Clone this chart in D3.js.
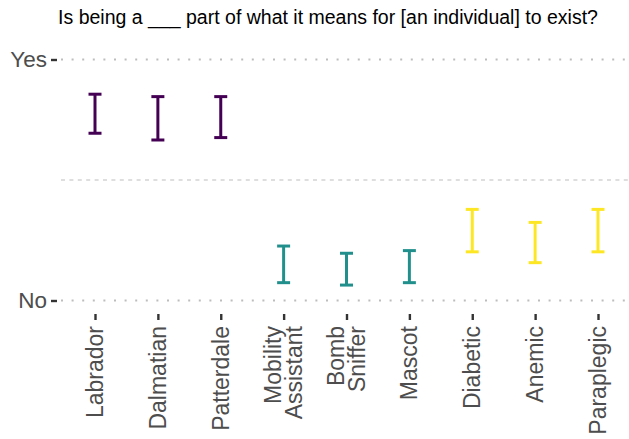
<!DOCTYPE html>
<html>
<head>
<meta charset="utf-8">
<script src="https://cdn.jsdelivr.net/npm/d3@7"></script>
<style>
  body { margin: 0; background: #fff; }
  svg { display: block; font-family: "Liberation Sans", Arial, sans-serif; }
</style>
</head>
<body>
<svg id="chart" width="629" height="439"></svg>
<script>
const categories = ["Labrador", "Dalmatian", "Patterdale", "Mobility\nAssistant", "Bomb\nSniffer", "Mascot", "Diabetic", "Anemic", "Paraplegic"];
const groups = ["breed", "breed", "breed", "role", "role", "role", "condition", "condition", "condition"];
const lowerValues = [0.694, 0.666, 0.676, 0.074, 0.064, 0.074, 0.202, 0.157, 0.202];
const upperValues = [0.856, 0.846, 0.846, 0.226, 0.196, 0.207, 0.378, 0.324, 0.378];
const yTickValues = [0, 1];
const yTickLabels = ["No", "Yes"];
const groupNames = ["breed", "role", "condition"];
const groupColors = ["#440154", "#21908C", "#FDE725"];
const titleText = "Is being a ___ part of what it means for [an individual] to exist?";

const svg = d3.select("#chart");
const W = 629, H = 439;
const panel = { left: 58, right: 629, top: 47, bottom: 313 };

const x = d3.scalePoint().domain(categories).range([95, 598]);
const y = d3.scaleLinear().domain([0, 1]).range([300.5, 59.5]);
const color = d3.scaleOrdinal().domain(groupNames).range(groupColors);

// title
svg.append("text")
  .attr("x", 328).attr("y", 24)
  .attr("text-anchor", "middle")
  .attr("font-size", 19.5)
  .attr("fill", "#000")
  .text(titleText);

// gridlines at Yes / No (dotted)
svg.append("g").selectAll("line").data(yTickValues).join("line")
  .attr("x1", panel.left + 3).attr("x2", panel.right)
  .attr("y1", d => y(d)).attr("y2", d => y(d))
  .attr("stroke", "#bdbdbd").attr("stroke-width", 2.2)
  .attr("stroke-dasharray", "2,8.6");

// midline dashed
svg.append("line")
  .attr("x1", panel.left + 3).attr("x2", panel.right)
  .attr("y1", y(0.5)).attr("y2", y(0.5))
  .attr("stroke", "#bdbdbd").attr("stroke-width", 1)
  .attr("stroke-dasharray", "4,4.4");

// y axis
const yAxis = d3.axisLeft(y).tickValues(yTickValues)
  .tickFormat((d, i) => yTickLabels[i]).tickSize(6).tickPadding(4);
const gy = svg.append("g").attr("transform", `translate(${panel.left - 1},0)`).call(yAxis);
gy.select(".domain").remove();
gy.selectAll(".tick line").attr("stroke", "#333").attr("stroke-width", 2.4);
gy.selectAll(".tick text").attr("font-size", 22.5).attr("fill", "#4d4d4d")
  .attr("font-family", "'Liberation Sans', Arial, sans-serif");

// x axis
const xAxis = d3.axisBottom(x).tickSize(6).tickFormat("");
const gx = svg.append("g").attr("transform", `translate(0,${panel.bottom + 1})`).call(xAxis);
gx.select(".domain").remove();
gx.selectAll(".tick line").attr("stroke", "#333").attr("stroke-width", 2.4);

// x labels rotated
const lineH = 21.5;
categories.forEach(c => {
  const lines = c.split("\n");
  const n = lines.length;
  const t = svg.append("text")
    .attr("transform", `translate(${x(c)},${panel.bottom + 13}) rotate(-90)`)
    .attr("text-anchor", "end")
    .attr("font-size", 23)
    .attr("fill", "#4d4d4d");
  lines.forEach((ln, i) => {
    t.append("tspan")
      .attr("x", 0)
      .attr("y", (i - (n - 1) / 2) * lineH + 8)
      .text(ln);
  });
});

// error bars
const capW = 6.5;
const bars = svg.append("g").selectAll("g").data(categories).join("g")
  .attr("stroke", (d, i) => color(groups[i]))
  .attr("stroke-width", 3)
  .attr("fill", "none");
bars.append("line")
  .attr("x1", d => x(d)).attr("x2", d => x(d))
  .attr("y1", (d, i) => y(lowerValues[i])).attr("y2", (d, i) => y(upperValues[i]));
bars.append("line")
  .attr("x1", d => x(d) - capW).attr("x2", d => x(d) + capW)
  .attr("y1", (d, i) => y(lowerValues[i])).attr("y2", (d, i) => y(lowerValues[i]));
bars.append("line")
  .attr("x1", d => x(d) - capW).attr("x2", d => x(d) + capW)
  .attr("y1", (d, i) => y(upperValues[i])).attr("y2", (d, i) => y(upperValues[i]));
</script>
</body>
</html>
